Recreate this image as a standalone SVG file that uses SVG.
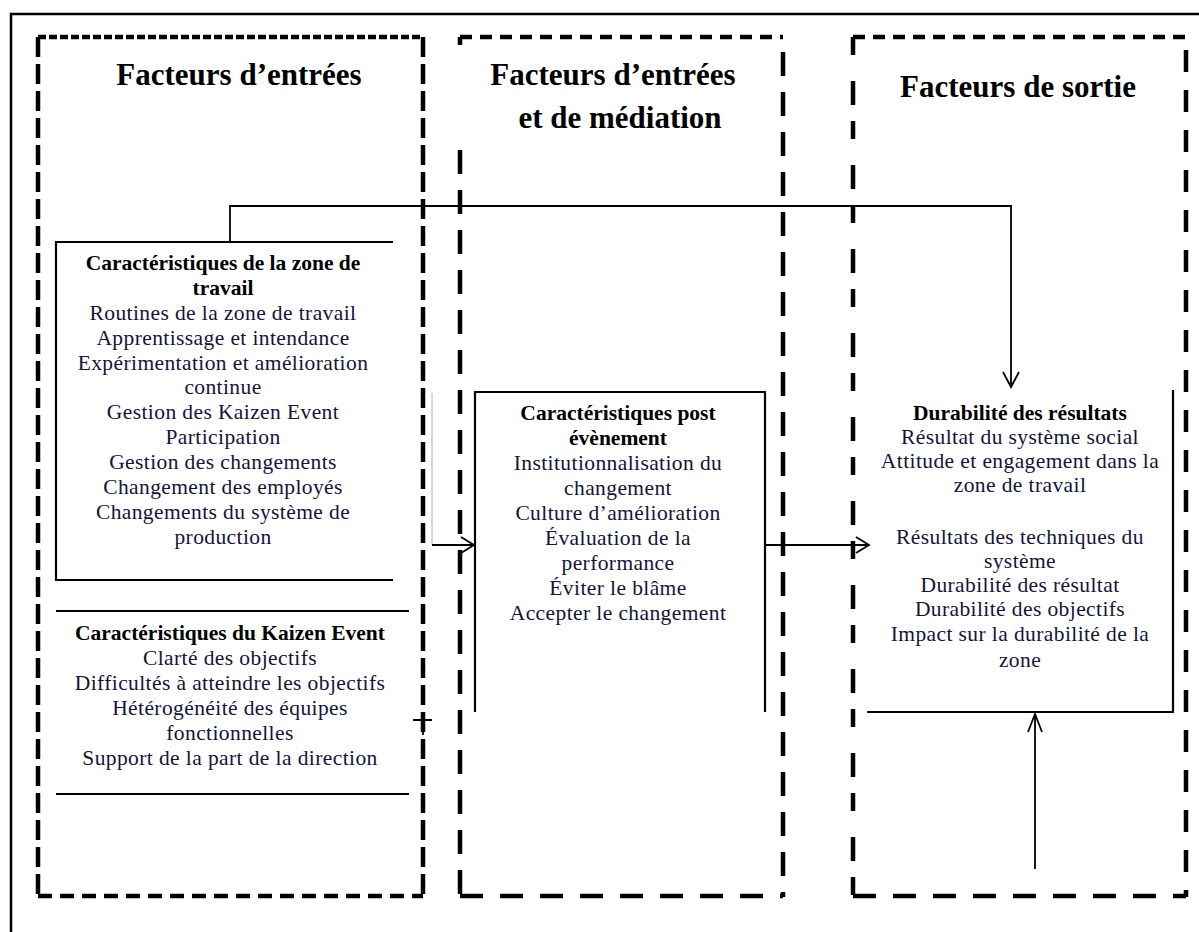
<svg xmlns="http://www.w3.org/2000/svg" width="1199" height="932" viewBox="0 0 1199 932">
<defs>
<style>
.frame{fill:none;stroke:#000;stroke-width:2.5}
.dash{fill:none;stroke:#000;stroke-width:4.5}
.inner{fill:none;stroke:#000;stroke-width:2.2}
.conn{fill:none;stroke:#000;stroke-width:1.8}
.head{fill:none;stroke:#000;stroke-width:1.8;stroke-linejoin:miter}
.title{font-family:"Liberation Serif","Times New Roman",serif;font-weight:bold;font-size:31px;fill:#000;text-anchor:middle}
.hd{font-family:"Liberation Serif","Times New Roman",serif;font-weight:bold;font-size:21.5px;fill:#000;text-anchor:middle}
.tx{font-family:"Liberation Serif","Times New Roman",serif;font-size:21.5px;letter-spacing:0.4px;fill:#14143a;text-anchor:middle}
</style>
</defs>
<rect width="1199" height="932" fill="#fff"/>
<path class="frame" d="M11,932 V14 H1199"/>

<g id="col-entrees">
<line class="dash" x1="38" y1="37" x2="423" y2="37" stroke-dasharray="8 3"/>
<line class="dash" x1="38" y1="37" x2="38" y2="897" stroke-dasharray="20 7"/>
<line class="dash" x1="423" y1="37" x2="423" y2="897" stroke-dasharray="20 7"/>
<line class="dash" x1="38" y1="896" x2="423" y2="896" stroke-dasharray="14 8"/>
<text class="title" x="239" y="85">Facteurs d’entrées</text>
</g>

<g id="col-mediation">
<line class="dash" x1="460" y1="37" x2="783" y2="37" stroke-dasharray="12 8"/>
<line class="dash" x1="460" y1="37" x2="460" y2="897" stroke-dasharray="8 105 24 16 24 16 24 16 24 16 24 16 24 16 24 16 24 16 24 16 24 16 24 16 24 16 24 16 24 16 24 16 24 16 24 16 24 16 24 16 24 16 24 16 24 16 24 16 24 16"/>
<line class="dash" x1="783" y1="52" x2="783" y2="897" stroke-dasharray="24 16"/>
<line class="dash" x1="460" y1="896" x2="783" y2="896" stroke-dasharray="23 17"/>
<text class="title" x="613" y="85">Facteurs d’entrées</text>
<text class="title" x="620" y="128">et de médiation</text>
</g>

<g id="col-sortie">
<line class="dash" x1="853" y1="37" x2="1186" y2="37" stroke-dasharray="12 8"/>
<line class="dash" x1="853" y1="37" x2="853" y2="897" stroke-dasharray="18 26 24 16"/>
<line class="dash" x1="1186" y1="50" x2="1186" y2="897" stroke-dasharray="22 18"/>
<line class="dash" x1="853" y1="896" x2="1186" y2="896" stroke-dasharray="23 17"/>
<text class="title" x="1018" y="97">Facteurs de sortie</text>
</g>

<g id="zone-travail">
<path class="inner" d="M393,242 H56 V580 H393"/>
<text class="hd" x="223" y="270">Caractéristiques de la zone de</text>
<text class="hd" x="223" y="295">travail</text>
<text class="tx" x="223" y="320">Routines de la zone de travail</text>
<text class="tx" x="223" y="345">Apprentissage et intendance</text>
<text class="tx" x="223" y="370">Expérimentation et amélioration</text>
<text class="tx" x="223" y="394">continue</text>
<text class="tx" x="223" y="419">Gestion des Kaizen Event</text>
<text class="tx" x="223" y="444">Participation</text>
<text class="tx" x="223" y="469">Gestion des changements</text>
<text class="tx" x="223" y="494">Changement des employés</text>
<text class="tx" x="223" y="519">Changements du système de</text>
<text class="tx" x="223" y="544">production</text>
</g>

<g id="kaizen-event">
<line class="inner" x1="56" y1="611" x2="409" y2="611"/>
<line class="inner" x1="56" y1="794" x2="409" y2="794"/>
<text class="hd" x="230" y="640">Caractéristiques du Kaizen Event</text>
<text class="tx" x="230" y="665">Clarté des objectifs</text>
<text class="tx" x="230" y="690">Difficultés à atteindre les objectifs</text>
<text class="tx" x="230" y="715">Hétérogénéité des équipes</text>
<text class="tx" x="230" y="740">fonctionnelles</text>
<text class="tx" x="230" y="765">Support de la part de la direction</text>
</g>

<g id="post-evenement">
<path class="inner" d="M475,712 V392 H765 V712"/>
<text class="hd" x="618" y="420">Caractéristiques post</text>
<text class="hd" x="618" y="445">évènement</text>
<text class="tx" x="618" y="470">Institutionnalisation du</text>
<text class="tx" x="618" y="495">changement</text>
<text class="tx" x="618" y="520">Culture d’amélioration</text>
<text class="tx" x="618" y="545">Évaluation de la</text>
<text class="tx" x="618" y="570">performance</text>
<text class="tx" x="618" y="595">Éviter le blâme</text>
<text class="tx" x="618" y="620">Accepter le changement</text>
</g>

<g id="durabilite">
<path class="inner" d="M1173,390 V712 H867"/>
<text class="hd" x="1020" y="420">Durabilité des résultats</text>
<text class="tx" x="1020" y="444">Résultat du système social</text>
<text class="tx" x="1020" y="468">Attitude et engagement dans la</text>
<text class="tx" x="1020" y="492">zone de travail</text>
<text class="tx" x="1020" y="544">Résultats des techniques du</text>
<text class="tx" x="1020" y="568">système</text>
<text class="tx" x="1020" y="592">Durabilité des résultat</text>
<text class="tx" x="1020" y="616">Durabilité des objectifs</text>
<text class="tx" x="1020" y="641">Impact sur la durabilité de la</text>
<text class="tx" x="1020" y="667">zone</text>
</g>

<g id="connectors">
<path class="conn" d="M230,242 V206 H1011 V386"/>
<path class="head" d="M1003,372 L1011,387 L1019,372"/>
<line x1="432" y1="393" x2="432" y2="545" stroke="#bdbdbd" stroke-width="1.2"/>
<path class="conn" d="M432,545 H473"/>
<path class="head" d="M461,537 L474,545 L461,553"/>
<path class="conn" d="M765,545 H867"/>
<path class="head" d="M856,537 L869,545 L856,553"/>
<path class="conn" d="M1035,869 V714"/>
<path class="head" d="M1028,732 L1035,714 L1042,732"/>
<path class="conn" d="M413,720 H432 M423,720 V735"/>
</g>
</svg>
